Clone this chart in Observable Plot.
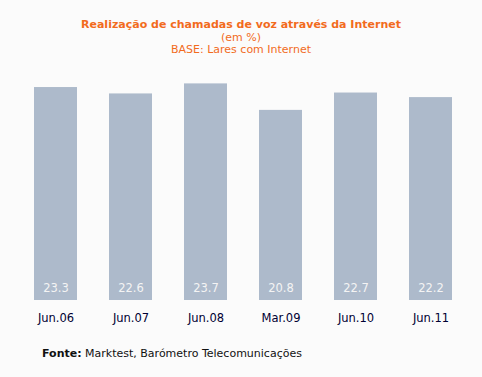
<!DOCTYPE html>
<html>
<head>
<meta charset="utf-8">
<script src="https://cdn.jsdelivr.net/npm/d3@7"></script>
<script src="https://cdn.jsdelivr.net/npm/@observablehq/plot@0.6"></script>
<style>
  html, body { margin: 0; padding: 0; background: #fbfbfb; }
  #wrap { position: relative; width: 482px; height: 377px; background: #fbfbfb; font-family: "DejaVu Sans", Verdana, sans-serif; }
  #title { position: absolute; left: 0; top: 19px; width: 482px; text-align: center; color: #f26b1d; font-size: 11px; line-height: 12.5px; }
  #title b { font-size: 11px; }
  #chart { position: absolute; left: 0; top: 0; }
  #caption { position: absolute; left: 42px; top: 347px; font-size: 11px; color: #111; }
</style>
</head>
<body>
<div id="wrap">
  <div id="chart"></div>
  <div id="title"><b>Realização de chamadas de voz através da Internet</b><br>(em %)<br>BASE: Lares com Internet</div>
  <div id="caption"><b>Fonte:</b> Marktest, Barómetro Telecomunicações</div>
</div>
<script>
const categories = ["Jun.06", "Jun.07", "Jun.08", "Mar.09", "Jun.10", "Jun.11"];
const values = [23.3, 22.6, 23.7, 20.8, 22.7, 22.2];

const data = categories.map((c, i) => ({category: c, value: values[i]}));

const chart = Plot.plot({
  width: 482,
  height: 330,
  marginTop: 71.5,
  marginBottom: 30,
  marginLeft: 0,
  marginRight: 0,
  style: {background: "transparent", fontFamily: "DejaVu Sans, Verdana, sans-serif"},
  x: {domain: categories, range: [18, 468], paddingInner: 0.427, paddingOuter: 0.2135, label: null},
  y: {domain: [0, 25], axis: null},
  marks: [
    Plot.barY(data, {x: "category", y: "value", fill: "#adbacb"}),
    Plot.text(data, {x: "category", y: 0, text: d => d.value.toFixed(1), dy: -12.5, fill: "#f4f4f4", fontSize: 11.5}),
    Plot.axisX({tickSize: 0, tickPadding: 13, fontSize: 11.5, color: "#000033", label: null})
  ]
});
document.getElementById("chart").appendChild(chart);
</script>
</body>
</html>
